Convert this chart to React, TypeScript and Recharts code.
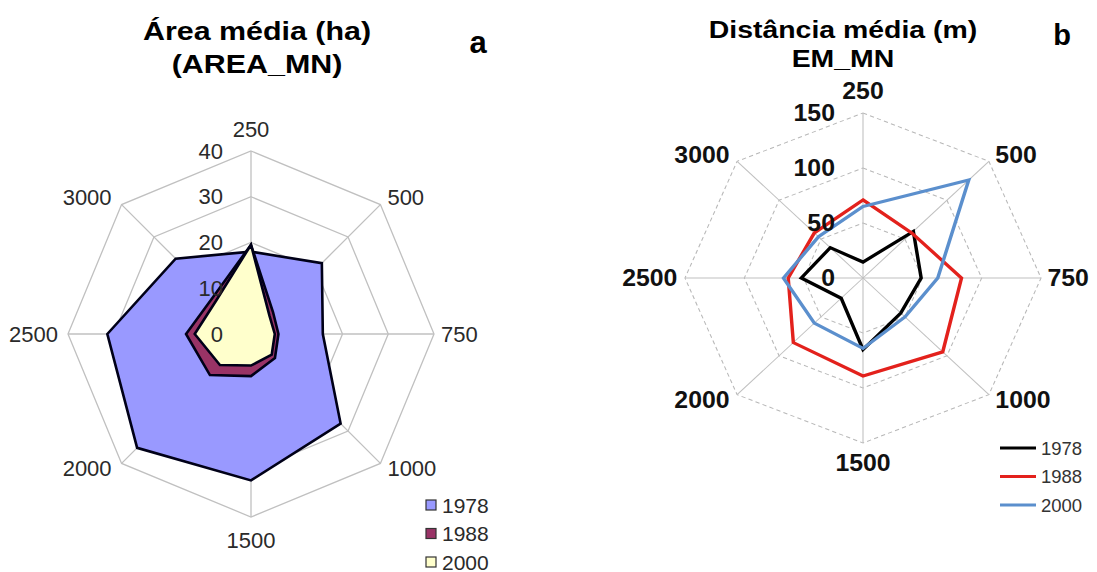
import { PolarAngleAxis, PolarGrid, PolarRadiusAxis, Radar, RadarChart } from 'recharts';

const classes = ['250', '500', '750', '1000', '1500', '2000', '2500', '3000'];
const years = ['1978', '1988', '2000'];

// AREA_MN, mean patch area (ha)
const area1978 = [18, 21.9, 15.7, 27.7, 32, 35.2, 31.4, 23.3];
const area1988 = [19.5, 6.8, 6, 7.4, 9.2, 12.7, 14.2, 11.6];
const area2000 = [19.5, 5.7, 5.2, 6.4, 6.9, 9.6, 12.3, 10.6];

// EM_MN, mean distance (m)
const dist1978 = [14.5, 60, 49, 45, 65, 26, 52, 39];
const dist1988 = [71, 58, 83, 95, 89, 83, 63, 58];
const dist2000 = [65, 126, 63, 50, 64, 58, 67, 53];

const areaRows = classes.map((c, i) => ({ classe: c, y1978: area1978[i], y1988: area1988[i], y2000: area2000[i] }));
const distRows = classes.map((c, i) => ({ classe: c, y1978: dist1978[i], y1988: dist1988[i], y2000: dist2000[i] }));

const FONT = 'Arial, "Liberation Sans", sans-serif';

const areaFill = ['#9999ff', '#993366', '#ffffcc'];
const distStroke = ['#000000', '#e3211c', '#5b8fcd'];

type Gap = { top: number; bottom: number; left: number; right: number; up: number; down: number };

// category labels placed just outside each spoke end
const angleTick = (cx: number, cy: number, r: number, g: Gap, style: any) => (props: any) => {
  const rad = (props.payload.coordinate * Math.PI) / 180;
  const cos = Math.cos(rad);
  const sin = Math.sin(rad);
  const vx = cx + r * cos;
  const vy = cy - r * sin;
  let x = vx;
  let y = vy;
  let anchor = 'middle';
  if (Math.abs(cos) < 0.01) {
    y = sin > 0 ? vy - g.top : vy + g.bottom;
  } else {
    anchor = cos > 0 ? 'start' : 'end';
    x = cos > 0 ? vx + g.right : vx - g.left;
    if (Math.abs(sin) > 0.01) y = sin > 0 ? vy - g.up : vy + g.down;
  }
  return (
    <text x={x} y={y} textAnchor={anchor} dominantBaseline="central" fontFamily={FONT} {...style}>
      {props.payload.value}
    </text>
  );
};

const radiusTick = (dx: number, style: any) => (props: any) => (
  <text x={props.x - dx} y={props.y} textAnchor="end" dominantBaseline="central" fontFamily={FONT} {...style}>
    {props.payload.value}
  </text>
);

function AreaRadar() {
  const cx = 251;
  const cy = 334;
  const r = 183;
  const labelStyle = { fontSize: 22, fill: '#2a2a2a' };
  return (
    <div style={{ position: 'absolute', left: 0, top: 0 }}>
      <RadarChart width={520} height={572} data={areaRows} cx={cx} cy={cy} outerRadius={r} margin={{ top: 0, right: 0, bottom: 0, left: 0 }}>
        <PolarGrid gridType="polygon" stroke="#c0c0c0" strokeWidth={1.3} />
        <PolarAngleAxis
          dataKey="classe"
          axisLine={false}
          tickLine={false}
          tick={angleTick(cx, cy, r, { top: 22, bottom: 23, left: 10, right: 7, up: 7, down: 5 }, labelStyle)}
        />
        <PolarRadiusAxis angle={90} domain={[0, 40]} tickCount={5} axisLine={false} tickLine={false} tick={radiusTick(28, labelStyle)} />
        {years.map((y, i) => (
          <Radar
            key={y}
            dataKey={'y' + y}
            name={y}
            fill={areaFill[i]}
            fillOpacity={1}
            stroke="#000018"
            strokeWidth={2.6}
            dot={false}
            isAnimationActive={false}
          />
        ))}
      </RadarChart>
    </div>
  );
}

function DistRadar() {
  const cx = 263;
  const cy = 278;
  const r = 165;
  const labelStyle = { fontSize: 23, fill: '#111', fontWeight: 'bold' };
  return (
    <div style={{ position: 'absolute', left: 600, top: 0, transform: 'scaleX(1.079)', transformOrigin: `${cx}px ${cy}px` }}>
      <RadarChart width={497} height={572} data={distRows} cx={cx} cy={cy} outerRadius={r} margin={{ top: 0, right: 0, bottom: 0, left: 0 }}>
        {/* dashed rings, solid spokes */}
        <PolarGrid gridType="polygon" radialLines={false} stroke="#b8b8b8" strokeDasharray="4 3" />
        <PolarGrid gridType="polygon" polarRadius={[0]} stroke="#c0c0c0" />
        <PolarAngleAxis
          dataKey="classe"
          axisLine={false}
          tickLine={false}
          tick={angleTick(cx, cy, r, { top: 22, bottom: 20, left: 7, right: 6, up: 6, down: 5 }, labelStyle)}
        />
        <PolarRadiusAxis angle={90} domain={[0, 150]} tickCount={4} axisLine={false} tickLine={false} tick={radiusTick(26, labelStyle)} />
        {years.map((y, i) => (
          <Radar
            key={y}
            dataKey={'y' + y}
            name={y}
            fill="none"
            fillOpacity={0}
            stroke={distStroke[i]}
            strokeWidth={3.2}
            dot={false}
            isAnimationActive={false}
          />
        ))}
      </RadarChart>
    </div>
  );
}

function Titles() {
  const t = { fontFamily: FONT, fontWeight: 'bold', fill: '#000' } as const;
  return (
    <svg width={1097} height={572} style={{ position: 'absolute', left: 0, top: 0, pointerEvents: 'none' }}>
      <g transform="translate(257,40) scale(1.17,1)">
        <text textAnchor="middle" fontSize={26} {...t}>Área média (ha)</text>
      </g>
      <g transform="translate(257,73) scale(1.17,1)">
        <text textAnchor="middle" fontSize={26} {...t}>(AREA_MN)</text>
      </g>
      <text x={478} y={53} textAnchor="middle" fontSize={31} {...t}>a</text>

      <g transform="translate(843,38) scale(1.21,1)">
        <text textAnchor="middle" fontSize={23.5} {...t}>Distância média (m)</text>
      </g>
      <g transform="translate(843,67) scale(1.21,1)">
        <text textAnchor="middle" fontSize={23.5} {...t}>EM_MN</text>
      </g>
      <text x={1062} y={45} textAnchor="middle" fontSize={29} {...t}>b</text>

      {/* legend a */}
      {years.map((y, i) => (
        <g key={'la' + y}>
          <rect x={426} y={500 + i * 28.5} width={10} height={10} fill={areaFill[i]} stroke="#333" strokeWidth={1.2} />
          <text x={442} y={505 + i * 28.5} dominantBaseline="central" fontFamily={FONT} fontSize={21} fill="#2a2a2a">
            {y}
          </text>
        </g>
      ))}

      {/* legend b */}
      {years.map((y, i) => (
        <g key={'lb' + y}>
          <line x1={1000} x2={1036} y1={448 + i * 28.5} y2={448 + i * 28.5} stroke={distStroke[i]} strokeWidth={3.2} />
          <text x={1041} y={448 + i * 28.5} dominantBaseline="central" fontFamily={FONT} fontSize={18.5} fill="#333">
            {y}
          </text>
        </g>
      ))}
    </svg>
  );
}

export default function App() {
  return (
    <div style={{ position: 'absolute', left: 0, top: 0, width: 1097, height: 572, background: '#fff', overflow: 'hidden' }}>
      <AreaRadar />
      <DistRadar />
      <Titles />
    </div>
  );
}
